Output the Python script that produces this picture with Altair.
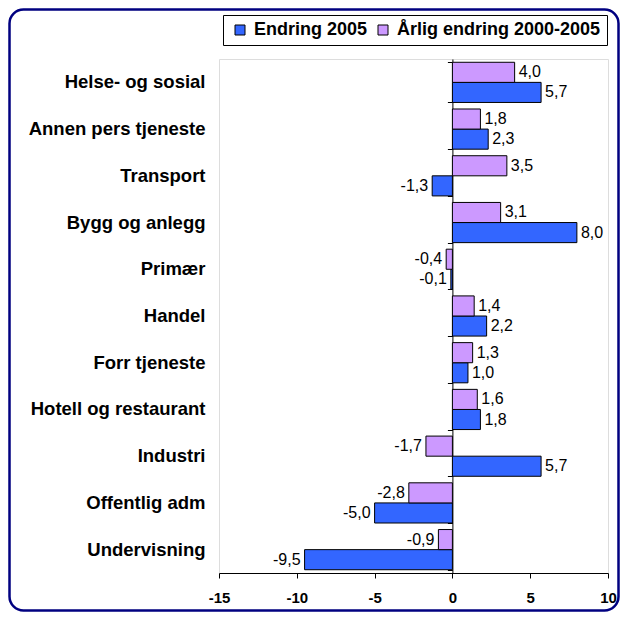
import altair as alt
import pandas as pd

categories = ["Helse- og sosial", "Annen pers tjeneste", "Transport", "Bygg og anlegg",
              "Primær", "Handel", "Forr tjeneste", "Hotell og restaurant",
              "Industri", "Offentlig adm", "Undervisning"]
endring_2005 = [5.7, 2.3, -1.3, 8.0, -0.1, 2.2, 1.0, 1.8, 5.7, -5.0, -9.5]
arlig_endring = [4.0, 1.8, 3.5, 3.1, -0.4, 1.4, 1.3, 1.6, -1.7, -2.8, -0.9]
series_names = ["Endring 2005", "Årlig endring 2000-2005"]
x_ticks = [-15, -10, -5, 0, 5, 10]

rows = []
for c, a, b in zip(categories, endring_2005, arlig_endring):
    rows.append({"cat": c, "series": series_names[0], "value": a})
    rows.append({"cat": c, "series": series_names[1], "value": b})
df = pd.DataFrame(rows)
df["label"] = df["value"].map(lambda v: f"{v:.1f}".replace(".", ","))

W, H = 389, 514
TOTAL_W, TOTAL_H = 612, 604
PL, PT = 211, 51
FONT = "Liberation Sans"
xscale = alt.Scale(domain=[-15, 10], nice=False, zero=False)
yscale = alt.Scale(domain=categories, paddingInner=0.14, paddingOuter=0.07)
yoff = alt.YOffset("series:N", scale=alt.Scale(domain=[series_names[1], series_names[0]]))

base = alt.Chart(df)

bars = base.mark_bar(stroke="black", strokeWidth=1).encode(
    x=alt.X("value:Q", scale=xscale,
            axis=alt.Axis(values=x_ticks, title=None, grid=False, tickSize=5,
                          tickColor="black", domainColor="black", labelFont=FONT,
                          labelFontSize=15, labelFontWeight="bold", labelColor="black",
                          labelPadding=12, labelFlush=False,
                          labelExpr="toString(datum.value)")),
    y=alt.Y("cat:N", scale=yscale, sort=categories,
            axis=alt.Axis(title=None, ticks=False, domain=False, labelFont=FONT,
                          labelFontSize=18.5, labelFontWeight="bold", labelColor="black",
                          labelPadding=14, labelLimit=300)),
    yOffset=yoff,
    color=alt.Color("series:N", scale=alt.Scale(domain=series_names, range=["#3366FF", "#CC99FF"]),
                    legend=alt.Legend(title=None, orient="none", legendX=4, legendY=-44,
                                      direction="horizontal", symbolType="square",
                                      symbolSize=100, symbolStrokeColor="black",
                                      symbolStrokeWidth=1, labelFont=FONT, labelFontSize=18,
                                      labelFontWeight="bold", labelColor="black",
                                      labelLimit=400,
                                      strokeColor="black", padding=6, columnPadding=4,
                                      symbolOffset=2, labelOffset=5)),
)

pos_text = base.transform_filter("datum.value >= 0").mark_text(
    align="left", baseline="middle", dx=4, font=FONT, fontSize=16, color="black"
).encode(
    x=alt.X("value:Q", scale=xscale),
    y=alt.Y("cat:N", scale=yscale, sort=categories,
            axis=alt.Axis(title=None, labels=False, ticks=True, tickBand="extent",
                          tickSize=5, tickColor="black", domain=True, domainColor="black",
                          offset=-(W * 15 / 25), orient="left")),
    yOffset=yoff,
    text="label:N",
)

neg_text = base.transform_filter("datum.value < 0").mark_text(
    align="right", baseline="middle", dx=-4, font=FONT, fontSize=16, color="black"
).encode(
    x=alt.X("value:Q", scale=xscale),
    y=alt.Y("cat:N", scale=yscale, sort=categories, axis=None),
    yOffset=yoff,
    text="label:N",
)

border = alt.Chart(pd.DataFrame({"a": [0]})).mark_rect(
    cornerRadius=14, fillOpacity=0, stroke="#000080", strokeWidth=2.5
).encode(
    x=alt.value(1.5 - PL), x2=alt.value(TOTAL_W - 1.5 - PL),
    y=alt.value(1.5 - PT), y2=alt.value(TOTAL_H - 1.5 - PT)
)

chart = alt.layer(bars, pos_text, neg_text, border).resolve_axis(y="independent").properties(
    width=W, height=H,
    autosize=alt.AutoSizeParams(type="none"),
    padding={"left": PL, "top": PT, "right": TOTAL_W - PL - W, "bottom": TOTAL_H - PT - H},
).configure_view(stroke="#808080", strokeWidth=1).configure(background="white")

chart.save("out.html", embed_options={"renderer": "svg", "actions": False})
